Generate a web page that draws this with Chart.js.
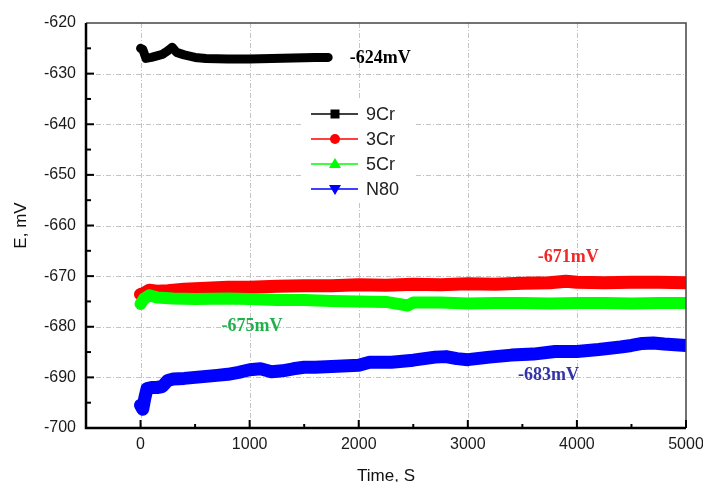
<!DOCTYPE html>
<html>
<head>
<meta charset="utf-8">
<script src="https://cdn.jsdelivr.net/npm/chart.js@4"></script>
<style>
  body { margin: 0; background: #fff; }
  #wrap { width: 703px; height: 482px; }
</style>
</head>
<body>
<div id="wrap"><canvas id="chart" width="703" height="482"></canvas></div>
<script>
// datos (tiempo en s, potencial en mV)
const time9Cr = [0, 20, 50, 100, 150, 200, 250, 290, 330, 400, 500, 600, 800, 1000, 1200, 1400, 1600, 1720];
const e9Cr = [-625.0, -625.2, -627.0, -626.8, -626.5, -626.2, -625.5, -624.8, -625.8, -626.3, -626.8, -627.0, -627.1, -627.1, -627.0, -626.9, -626.8, -626.8];

const time3Cr = [0, 30, 80, 150, 250, 400, 600, 800, 1000, 1250, 1500, 1750, 2000, 2250, 2500, 2750, 3000, 3250, 3500, 3750, 3900, 4000, 4250, 4500, 4750, 5000];
const e3Cr = [-673.6, -673.4, -672.8, -673.0, -672.9, -672.6, -672.4, -672.2, -672.2, -672.0, -671.9, -671.9, -671.7, -671.8, -671.6, -671.7, -671.5, -671.6, -671.4, -671.3, -671.0, -671.2, -671.3, -671.2, -671.2, -671.3];

const time5Cr = [0, 30, 80, 150, 300, 500, 800, 1000, 1250, 1500, 1750, 2000, 2250, 2450, 2500, 2750, 3000, 3250, 3500, 3750, 4000, 4250, 4500, 4750, 5000];
const e5Cr = [-675.5, -674.5, -673.8, -674.2, -674.4, -674.5, -674.4, -674.5, -674.7, -674.7, -674.9, -675.0, -675.1, -675.8, -675.2, -675.2, -675.4, -675.3, -675.3, -675.4, -675.3, -675.3, -675.4, -675.3, -675.3];

const timeN80 = [0, 20, 40, 60, 100, 150, 200, 250, 300, 400, 500, 600, 700, 800, 900, 1000, 1100, 1200, 1300, 1400, 1500, 1600, 1800, 2000, 2100, 2300, 2500, 2700, 2800, 2900, 3000, 3200, 3400, 3600, 3800, 4000, 4200, 4400, 4500, 4600, 4700, 4800, 5000];
const eN80 = [-695.5, -696.3, -694.0, -692.2, -692.0, -692.0, -691.8, -690.6, -690.3, -690.2, -690.0, -689.8, -689.6, -689.4, -689.0, -688.5, -688.3, -688.9, -688.7, -688.3, -688.0, -688.0, -687.8, -687.6, -687.0, -687.0, -686.6, -686.0, -685.9, -686.3, -686.5, -686.0, -685.6, -685.4, -684.9, -684.9, -684.5, -684.0, -683.7, -683.3, -683.2, -683.4, -683.7];

const seriesNames = ['9Cr', '3Cr', '5Cr', 'N80'];
const seriesColors = ['#000000', '#ff0000', '#00ff00', '#0000ff'];
const seriesMarkers = ['rect', 'circle', 'triangle', 'triangleDown'];

const xTicks = [0, 1000, 2000, 3000, 4000, 5000];
const yTicks = [-700, -690, -680, -670, -660, -650, -640, -630, -620];

// etiquetas de potencial final
const noteTexts = ['-624mV', '-671mV', '-675mV', '-683mV'];
const noteX = [1917, 3642, 743, 3459];
const noteY = [-626.9, -666.2, -679.9, -689.6];
const noteColors = ['#000000', '#f02828', '#22b04e', '#3333a8'];

function toPoints(t, e) {
    return t.map((v, i) => ({ x: v, y: e[i] }));
}

const frame = {
    id: 'frame',
    beforeDatasetsDraw(chart) {
        const ctx = chart.ctx;
        const a = chart.chartArea;
        const xs = chart.scales.x, ys = chart.scales.y;
        ctx.save();
        ctx.strokeStyle = '#c4c4c4';
        ctx.lineWidth = 1;
        ctx.setLineDash([5, 2, 1, 2]);
        xTicks.forEach(v => {
            const px = Math.round(xs.getPixelForValue(v)) + 0.5;
            if (px > a.right - 2) return;
            ctx.beginPath(); ctx.moveTo(px, a.top); ctx.lineTo(px, a.bottom); ctx.stroke();
        });
        yTicks.forEach(v => {
            const py = Math.round(ys.getPixelForValue(v)) + 0.5;
            if (py < a.top + 2 || py > a.bottom - 2) return;
            ctx.beginPath(); ctx.moveTo(a.left, py); ctx.lineTo(a.right, py); ctx.stroke();
        });
        ctx.restore();
    },
    afterDatasetsDraw(chart) {
        const ctx = chart.ctx;
        const a = chart.chartArea;
        const xs = chart.scales.x, ys = chart.scales.y;
        ctx.save();
        // marco
        ctx.strokeStyle = '#444';
        ctx.lineWidth = 1.5;
        ctx.beginPath(); ctx.moveTo(a.left, a.top); ctx.lineTo(a.right, a.top); ctx.lineTo(a.right, a.bottom); ctx.stroke();
        ctx.strokeStyle = '#000';
        ctx.lineWidth = 2.5;
        ctx.beginPath(); ctx.moveTo(a.left, a.top); ctx.lineTo(a.left, a.bottom); ctx.lineTo(a.right, a.bottom); ctx.stroke();
        // marcas hacia adentro
        ctx.lineWidth = 2;
        for (let v = 0; v <= 5000; v += 500) {
            const px = xs.getPixelForValue(v);
            const len = v % 1000 === 0 ? 8 : 4;
            ctx.beginPath(); ctx.moveTo(px, a.bottom); ctx.lineTo(px, a.bottom - len); ctx.stroke();
        }
        for (let v = -695; v < -620; v += 5) {
            const py = ys.getPixelForValue(v);
            const len = v % 10 === 0 ? 8 : 5;
            ctx.beginPath(); ctx.moveTo(a.left, py); ctx.lineTo(a.left + len, py); ctx.stroke();
        }
        // textos
        ctx.font = 'bold 18px "Liberation Serif", "Times New Roman", serif';
        ctx.textBaseline = 'middle';
        ctx.textAlign = 'left';
        noteTexts.forEach((t, i) => {
            ctx.fillStyle = noteColors[i];
            ctx.fillText(t, xs.getPixelForValue(noteX[i]), ys.getPixelForValue(noteY[i]));
        });
        // leyenda
        ctx.fillStyle = '#fff';
        ctx.fillRect(301, 98, 113, 105);
        ctx.font = '18px "Liberation Sans", Arial, sans-serif';
        seriesNames.forEach((n, i) => {
            const y = 114 + i * 25;
            ctx.strokeStyle = seriesColors[i];
            ctx.fillStyle = seriesColors[i];
            ctx.lineWidth = 1.5;
            ctx.beginPath(); ctx.moveTo(311, y); ctx.lineTo(358, y); ctx.stroke();
            const m = seriesMarkers[i];
            ctx.beginPath();
            if (m === 'rect') ctx.rect(330.5, y - 4.5, 9, 9);
            else if (m === 'circle') ctx.arc(335, y, 5, 0, Math.PI * 2);
            else if (m === 'triangle') { ctx.moveTo(335, y - 6); ctx.lineTo(341, y + 4); ctx.lineTo(329, y + 4); ctx.closePath(); }
            else { ctx.moveTo(335, y + 6); ctx.lineTo(341, y - 4); ctx.lineTo(329, y - 4); ctx.closePath(); }
            ctx.fill();
            ctx.fillStyle = '#222';
            ctx.fillText(n, 366, y + 1);
        });
        ctx.restore();
    }
};

const ctx = document.getElementById('chart').getContext('2d');
new Chart(ctx, {
    type: 'line',
    data: {
        datasets: [
            { label: '9Cr', data: toPoints(time9Cr, e9Cr), borderColor: seriesColors[0], borderWidth: 9, order: 0 },
            { label: '3Cr', data: toPoints(time3Cr, e3Cr), borderColor: seriesColors[1], borderWidth: 13, order: 2 },
            { label: '5Cr', data: toPoints(time5Cr, e5Cr), borderColor: seriesColors[2], borderWidth: 12, order: 1 },
            { label: 'N80', data: toPoints(timeN80, eN80), borderColor: seriesColors[3], borderWidth: 13, order: 0 }
        ]
    },
    options: {
        responsive: false,
        animation: false,
        events: [],
        elements: { point: { radius: 0 }, line: { tension: 0, borderJoinStyle: 'round', borderCapStyle: 'round' } },
        layout: { padding: { top: 23, right: 17, bottom: 0, left: 0 } },
        plugins: { legend: { display: false }, tooltip: { enabled: false } },
        scales: {
            x: {
                type: 'linear',
                min: -500,
                max: 5000,
                afterBuildTicks: s => { s.ticks = xTicks.map(v => ({ value: v })); },
                afterFit: s => { s.height = 54; s.paddingLeft = 0; s.paddingRight = 0; },
                grid: { display: false, drawTicks: false },
                border: { display: false },
                ticks: { padding: 7, color: '#1a1a1a', callback: v => String(v), font: { size: 16, family: '"Liberation Sans", Arial, sans-serif' } },
                title: { display: true, text: 'Time, S', color: '#111', padding: { top: 0, bottom: -3 }, font: { size: 17, lineHeight: 1, family: '"Liberation Sans", Arial, sans-serif' } }
            },
            y: {
                min: -700,
                max: -620,
                afterBuildTicks: s => { s.ticks = yTicks.map(v => ({ value: v })); },
                afterFit: s => { s.width = 86; s.paddingTop = 0; s.paddingBottom = 0; },
                grid: { display: false, drawTicks: false },
                border: { display: false },
                ticks: { padding: 10, color: '#1a1a1a', font: { size: 16, family: '"Liberation Sans", Arial, sans-serif' } },
                title: { display: true, text: 'E, mV', color: '#111', padding: { top: 13, bottom: 0 }, font: { size: 17, lineHeight: 1, family: '"Liberation Sans", Arial, sans-serif' } }
            }
        }
    },
    plugins: [frame]
});
</script>
</body>
</html>
